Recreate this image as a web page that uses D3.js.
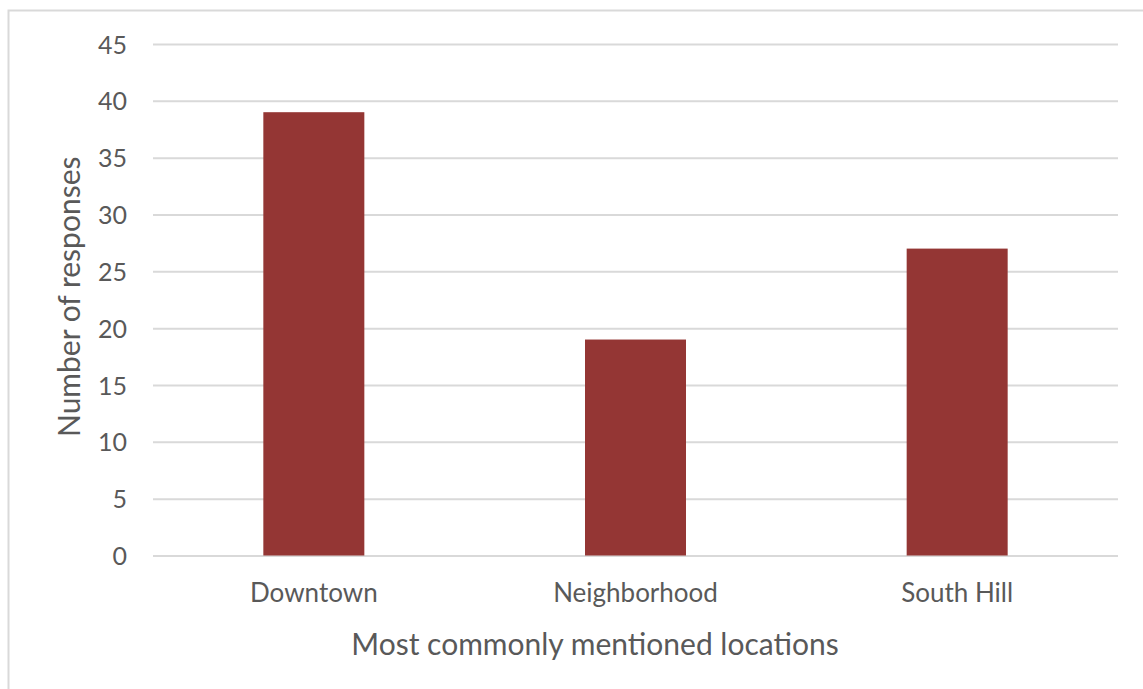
<!DOCTYPE html>
<html>
<head>
<meta charset="utf-8">
<script src="https://cdn.jsdelivr.net/npm/d3@7"></script>
<style>
  html, body { margin: 0; padding: 0; background: #fff; }
  svg text { font-family: Lato, "Open Sans", sans-serif; fill: #595959; }
</style>
</head>
<body>
<svg id="chart" width="1143" height="689"></svg>
<script>
// Survey responses by location
const categories = ["Downtown", "Neighborhood", "South Hill"];
const responses = [39, 19, 27];
const yTicks = [0, 5, 10, 15, 20, 25, 30, 35, 40, 45];

const svg = d3.select("#chart");
const W = 1143, H = 689;
const plot = { left: 153, right: 1118, top: 44, bottom: 555.5 };

// outer chart border
svg.append("rect")
  .attr("x", 8.5).attr("y", 10.5)
  .attr("width", W + 10).attr("height", H + 10)
  .attr("fill", "none").attr("stroke", "#d9d9d9").attr("stroke-width", 2);

const x = d3.scaleBand()
  .domain(categories)
  .range([plot.left, plot.right])
  .paddingInner(0.686)
  .paddingOuter(0.343);

const y = d3.scaleLinear()
  .domain([0, 45])
  .range([plot.bottom, plot.top]);

// horizontal gridlines with tick labels
const yAxis = d3.axisLeft(y)
  .tickValues(yTicks)
  .tickSize(-(plot.right - plot.left))
  .tickPadding(26);

const gy = svg.append("g")
  .attr("transform", `translate(${plot.left},0)`)
  .call(yAxis);
gy.select(".domain").remove();
gy.selectAll(".tick line").attr("stroke", "#d9d9d9").attr("stroke-width", 2);
gy.selectAll(".tick text")
  .style("font-size", "25px")
  .attr("fill", "#595959")
  .attr("dy", "0.36em");

// bars
svg.append("g").selectAll("rect")
  .data(categories)
  .join("rect")
  .attr("x", d => x(d))
  .attr("y", (d, i) => y(responses[i]))
  .attr("width", x.bandwidth())
  .attr("height", (d, i) => y(0) - y(responses[i]))
  .attr("fill", "#943634");

// category axis labels
const xAxis = d3.axisBottom(x).tickSize(0).tickPadding(0);
const gx = svg.append("g")
  .attr("transform", `translate(0,${plot.bottom})`)
  .call(xAxis);
gx.select(".domain").remove();
gx.selectAll(".tick text")
  .style("font-size", "26px")
  .attr("fill", "#595959")
  .attr("y", 46)
  .attr("dy", 0);

// axis titles
svg.append("text")
  .attr("x", 595)
  .attr("y", 655)
  .attr("text-anchor", "middle")
  .style("font-size", "30px")
  .text("Most commonly mentioned locations");

svg.append("text")
  .attr("transform", `translate(80,${(plot.top + plot.bottom) / 2 - 3}) rotate(-90)`)
  .attr("text-anchor", "middle")
  .style("font-size", "30px")
  .text("Number of responses");
</script>
</body>
</html>
